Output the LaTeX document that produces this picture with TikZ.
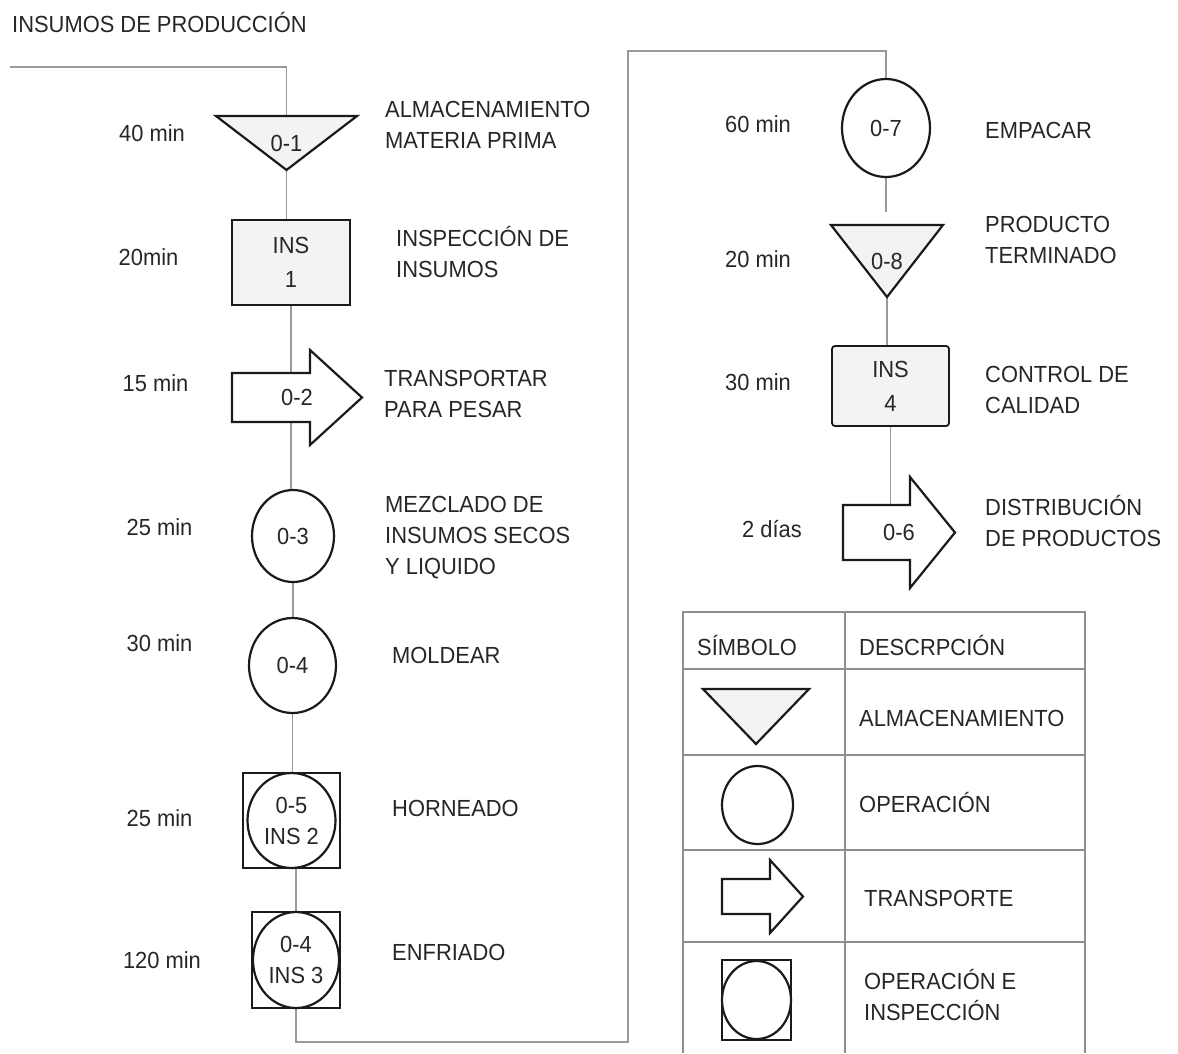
\documentclass[tikz,border=0pt]{standalone}
\usepackage{fontspec}
\setmainfont{Liberation Sans}[FakeStretch=0.94]
\usepackage{tikz}
\usetikzlibrary{shapes.geometric,backgrounds}
\definecolor{texto}{HTML}{262626}
\definecolor{trazo}{HTML}{1A1A1A}
\definecolor{conector}{HTML}{9A9A9A}
\definecolor{rejilla}{HTML}{8E8E8E}
\definecolor{relleno}{HTML}{F3F3F3}
\pgfdeclarelayer{lineas}
\pgfdeclarelayer{formas}
\pgfsetlayers{lineas,formas,main}
\tikzstyle{rotulo} = [font=\fontsize{23.3}{31}\selectfont, text=texto, inner sep=0pt]
\tikzstyle{descripcion} = [rotulo, anchor=west, align=left]
\tikzstyle{tiempo} = [rotulo]
\tikzstyle{operacion} = [rotulo, draw=trazo, ellipse, line width=2.2pt, fill=white, align=center]
\tikzstyle{inspeccion} = [rotulo, draw=trazo, rectangle, line width=1.8pt, fill=relleno, align=center, font=\fontsize{23.3}{34}\selectfont]
\tikzstyle{marco} = [draw=trazo, rectangle, line width=1.8pt, fill=white, inner sep=0pt]
\tikzstyle{hueco} = [rotulo, rectangle, outer sep=0pt]
\tikzstyle{almacen} = [draw=trazo, line width=2.2pt, fill=relleno]
\tikzstyle{transporte} = [draw=trazo, line width=2.2pt, fill=white]
\tikzstyle{linea} = [draw=conector, line width=1.5pt]
\tikzstyle{tabla} = [draw=rejilla, line width=1.5pt]

\begin{document}
\begin{tikzpicture}[auto, x=1pt, y=-1pt]
	\useasboundingbox (0,0) rectangle (1178,1053);
	\node [rotulo, anchor=west] (titulo) at (12,23) {INSUMOS DE PRODUCCIÓN};
	\coordinate (inicio) at (10,67);

	% columna izquierda
	\node [hueco, minimum width=141pt, minimum height=54pt] (o1) at (286.5,143) {0-1};
	\node [inspeccion, minimum width=118pt, minimum height=85pt] (i1) at (291,262.5) {INS\\1};
	\node [hueco, minimum width=130pt, minimum height=95pt] (o2) at (297,397.5) {0-2};
	\node [operacion, minimum width=82pt, minimum height=92pt] (o3) at (293,536) {0-3};
	\node [operacion, minimum width=87pt, minimum height=95pt] (o4) at (292.5,665.5) {0-4};
	\node [marco, minimum width=97pt, minimum height=95pt] (c5) at (291.5,820.5) {};
	\node [operacion, minimum width=88pt, minimum height=95pt] (o5) at (291.5,820.5) {0-5\\INS 2};
	\node [marco, minimum width=88pt, minimum height=96pt] (c6) at (296,960) {};
	\node [operacion, minimum width=86pt, minimum height=96pt] (o6) at (296,960) {0-4\\INS 3};

	\node [tiempo] (t1) at (152,133) {40 min};
	\node [tiempo] (t2) at (148.5,257) {20min};
	\node [tiempo] (t3) at (155.5,383) {15 min};
	\node [tiempo] (t4) at (159.5,527) {25 min};
	\node [tiempo] (t5) at (159.5,643) {30 min};
	\node [tiempo] (t6) at (159.5,818) {25 min};
	\node [tiempo] (t7) at (162,960) {120 min};

	\node [descripcion] (d1) at (385,125) {ALMACENAMIENTO\\MATERIA PRIMA};
	\node [descripcion] (d2) at (396,252.5) {INSPECCIÓN DE\\INSUMOS};
	\node [descripcion] (d3) at (384,393.5) {TRANSPORTAR\\PARA PESAR};
	\node [descripcion] (d4) at (385,538) {MEZCLADO DE\\INSUMOS SECOS\\Y LIQUIDO};
	\node [descripcion] (d5) at (392,655) {MOLDEAR};
	\node [descripcion] (d6) at (392,808) {HORNEADO};
	\node [descripcion] (d7) at (392,952) {ENFRIADO};

	% columna derecha
	\node [operacion, minimum width=88pt, minimum height=98pt] (o7) at (886,128) {0-7};
	\node [hueco, minimum width=112pt, minimum height=72pt] (o8) at (887,261) {0-8};
	\node [inspeccion, rounded corners=3pt, minimum width=117pt, minimum height=80pt] (i4) at (890.5,386) {INS\\4};
	\node [hueco, minimum width=112pt, minimum height=111pt] (o9) at (899,532.5) {0-6};

	\node [tiempo] (t8) at (758,124) {60 min};
	\node [tiempo] (t9) at (758,259) {20 min};
	\node [tiempo] (t10) at (758,382) {30 min};
	\node [tiempo] (t11) at (772,529) {2 días};

	\node [descripcion] (d8) at (985,130) {EMPACAR};
	\node [descripcion] (d9) at (985,239.5) {PRODUCTO\\TERMINADO};
	\node [descripcion] (d10) at (985,390) {CONTROL DE\\CALIDAD};
	\node [descripcion] (d11) at (985,521) {DISTRIBUCIÓN\\DE PRODUCTOS};

	% simbologia
	\draw [tabla] (683,1053) -- (683,612) -- (1085,612) -- (1085,1053);
	\draw [tabla] (845,612) -- (845,1053);
	\foreach \y in {669,755,850,942}
		\draw [tabla] (683,\y) -- (1085,\y);
	\node [descripcion] (h1) at (697,645) {SÍMBOLO};
	\node [descripcion] (h2) at (859,645) {DESCRPCIÓN};
	\node [hueco, minimum width=106pt, minimum height=55pt] (simal) at (756,716.5) {};
	\node [operacion, minimum width=71pt, minimum height=78pt] (simop) at (757.5,805) {};
	\node [hueco, minimum width=81pt, minimum height=73pt] (simtr) at (762.5,896.5) {};
	\node [marco, minimum width=69pt, minimum height=80pt] (simcu) at (756.5,1000) {};
	\node [operacion, minimum width=69pt, minimum height=78pt] (simoi) at (756.5,1000) {};
	\node [descripcion] (s1) at (859,718) {ALMACENAMIENTO};
	\node [descripcion] (s2) at (859,802) {OPERACIÓN};
	\node [descripcion] (s3) at (864,898) {TRANSPORTE};
	\node [descripcion] (s4) at (864,995) {OPERACIÓN E\\INSPECCIÓN};

	\begin{pgfonlayer}{formas}
		\draw [almacen] (o1.north west) -- (o1.north east) -- (o1.south) -- cycle;
		\draw [almacen] (o8.north west) -- (o8.north east) -- (o8.south) -- cycle;
		\draw [almacen] (simal.north west) -- (simal.north east) -- (simal.south) -- cycle;
		\draw [transporte] (o2.west) ++(0,-24.5) -- ++(78,0) -- ++(0,-23) -- (o2.east) -- ++(-52,47.5) -- ++(0,-23) -- ++(-78,0) -- cycle;
		\draw [transporte] (o9.west) ++(0,-27.5) -- ++(67,0) -- ++(0,-28) -- (o9.east) -- ++(-45,55.5) -- ++(0,-28) -- ++(-67,0) -- cycle;
		\draw [transporte] (simtr.west) ++(0,-17.5) -- ++(48,0) -- ++(0,-19) -- (simtr.east) -- ++(-33,36.5) -- ++(0,-19) -- ++(-48,0) -- cycle;
	\end{pgfonlayer}

	\coordinate (esq1) at (628,1042);
	\coordinate (esq2) at (628,51);
	\begin{pgfonlayer}{lineas}
		\draw [linea] (inicio) -| (o1.north);
		\draw [linea] (o1.south) -- (o1.south |- i1.north);
		\draw [linea] (i1.south) -- (i1.south |- o2.center);
		\draw [linea] (i1.south |- o2.center) -- (i1.south |- o3.north);
		\draw [linea] (o3.south) -- (o3.south |- o4.north);
		\draw [linea] (o4.south) -- (o4.south |- c5.north);
		\draw [linea] (c6.north |- c5.south) -- (c6.north);
		\draw [linea] (c6.south) |- (esq1) -- (esq2) -| (o7.north);
		\draw [linea, shorten >=13pt] (o7.south) -- (o7.south |- o8.north);
		\draw [linea] (o8.south) -- (o8.south |- i4.north);
		\draw [linea] (i4.south) -- (i4.south |- o9.center);
	\end{pgfonlayer}
\end{tikzpicture}
\end{document}
